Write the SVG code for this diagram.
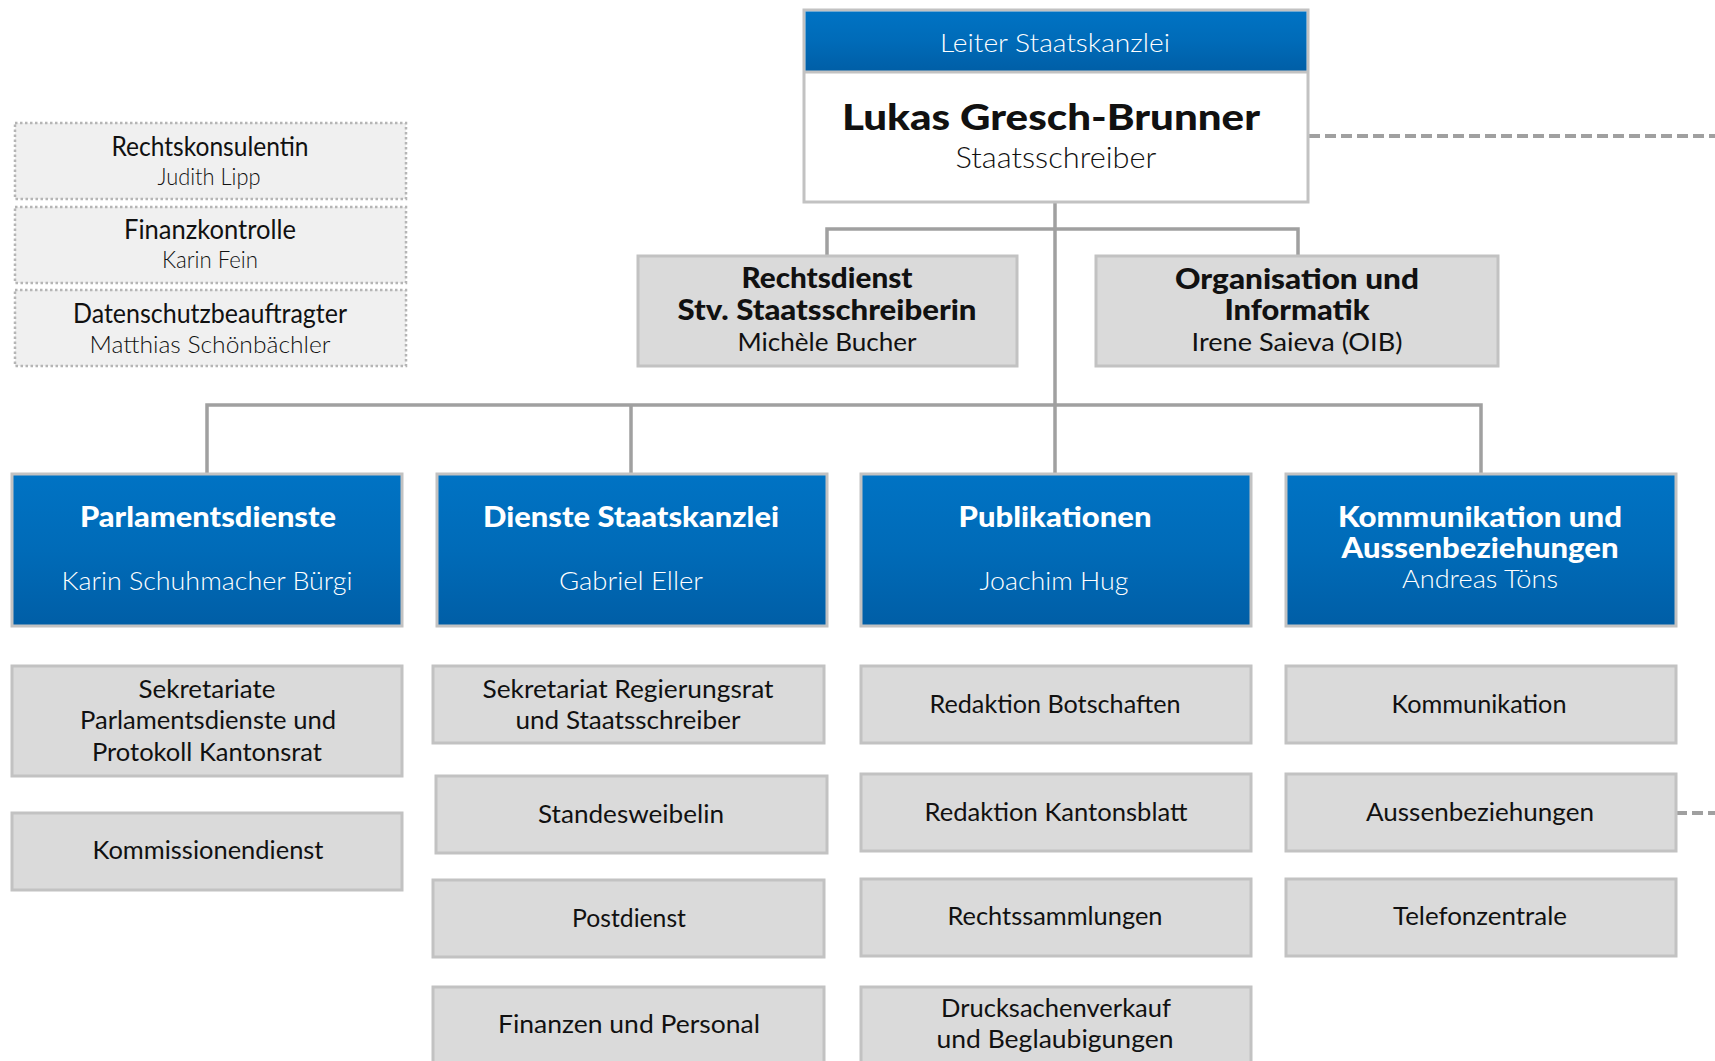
<svg xmlns="http://www.w3.org/2000/svg" width="1715" height="1061" viewBox="0 0 1715 1061">
<defs>
<linearGradient id="blue" x1="0" y1="0" x2="0" y2="1">
<stop offset="0" stop-color="#0073c4"/>
<stop offset="0.5" stop-color="#006bb8"/>
<stop offset="1" stop-color="#005ea6"/>
</linearGradient>
<style>
text{font-family:Lato,"Liberation Sans",sans-serif;text-anchor:middle;fill:#111}
.lt{font-weight:300;font-size:25px}
.rg{font-weight:400;font-size:25px}
.bd{font-weight:900;font-size:28px}
.w{fill:#fff}
.gbox{fill:#dadada;stroke:#c2c2c2;stroke-width:3}
.bbox{fill:url(#blue);stroke:#c2c2c2;stroke-width:3}
.dbox{fill:#f0f0f0;stroke:#b5b5b5;stroke-width:2.5;stroke-dasharray:2.5 2.5}
.conn{stroke:#a0a0a0;stroke-width:3.5;fill:none}
.dash{stroke:#a0a0a0;stroke-width:4;fill:none;stroke-dasharray:11 5}
</style>
</defs>
<rect width="1715" height="1061" fill="#fff"/>
<g id="connectors">
<path class="conn" d="M1055 202V474M827 257V229H1298V257M207 474V405H1481V474M631 405V474"/>
<path class="dash" d="M1309 136H1715"/>
<path class="dash" d="M1676 813H1715"/>
</g>
<g id="leiter">
<rect x="804" y="10" width="504" height="192" fill="#fff" stroke="#c2c2c2" stroke-width="3"/>
<rect x="805.5" y="11.5" width="501" height="60" fill="url(#blue)"/>
<line x1="804" y1="72" x2="1308" y2="72" stroke="#c2c2c2" stroke-width="3"/>
<text class="lt w" x="1055" y="52" font-size="26" textLength="230" lengthAdjust="spacingAndGlyphs">Leiter Staatskanzlei</text>
<text x="1051" y="130" style="font-weight:900;font-size:36px" textLength="418" lengthAdjust="spacingAndGlyphs">Lukas Gresch-Brunner</text>
<text class="lt" x="1056" y="168" style="font-size:30px" textLength="201" lengthAdjust="spacingAndGlyphs">Staatsschreiber</text>
</g>
<g id="rechtskonsulentin">
<rect class="dbox" x="15" y="123" width="391" height="76"/>
<text class="rg" x="210" y="156" style="font-size:26px" textLength="197" lengthAdjust="spacingAndGlyphs">Rechtskonsulentin</text>
<text class="lt" x="209" y="185" style="font-size:23px" textLength="103" lengthAdjust="spacingAndGlyphs">Judith Lipp</text>
</g>
<g id="finanzkontrolle">
<rect class="dbox" x="15" y="207" width="391" height="76"/>
<text class="rg" x="210" y="239" style="font-size:26px" textLength="172" lengthAdjust="spacingAndGlyphs">Finanzkontrolle</text>
<text class="lt" x="210" y="268" style="font-size:23px" textLength="96" lengthAdjust="spacingAndGlyphs">Karin Fein</text>
</g>
<g id="datenschutz">
<rect class="dbox" x="15" y="290" width="391" height="76"/>
<text class="rg" x="210" y="323" style="font-size:26px" textLength="274" lengthAdjust="spacingAndGlyphs">Datenschutzbeauftragter</text>
<text class="lt" x="210" y="353" style="font-size:23px" textLength="241" lengthAdjust="spacingAndGlyphs">Matthias Schönbächler</text>
</g>
<g id="rechtsdienst">
<rect class="gbox" x="638" y="256" width="379" height="110"/>
<text class="bd" x="827" y="288" textLength="171" lengthAdjust="spacingAndGlyphs">Rechtsdienst</text>
<text class="bd" x="827" y="320" textLength="299" lengthAdjust="spacingAndGlyphs">Stv. Staatsschreiberin</text>
<text class="rg" x="827" y="351" textLength="179" lengthAdjust="spacingAndGlyphs">Michèle Bucher</text>
</g>
<g id="organisation">
<rect class="gbox" x="1096" y="256" width="402" height="110"/>
<text class="bd" x="1297" y="289" textLength="244" lengthAdjust="spacingAndGlyphs">Organisation und</text>
<text class="bd" x="1297" y="320" textLength="145" lengthAdjust="spacingAndGlyphs">Informatik</text>
<text class="rg" x="1297" y="351" textLength="211" lengthAdjust="spacingAndGlyphs">Irene Saieva (OIB)</text>
</g>
<g id="parlamentsdienste">
<rect class="bbox" x="12" y="474" width="390" height="152"/>
<text class="bd w" x="208" y="527" textLength="256" lengthAdjust="spacingAndGlyphs">Parlamentsdienste</text>
<text class="lt w" x="207" y="590" textLength="291" lengthAdjust="spacingAndGlyphs">Karin Schuhmacher Bürgi</text>
</g>
<g id="dienste">
<rect class="bbox" x="437" y="474" width="390" height="152"/>
<text class="bd w" x="631" y="527" textLength="296" lengthAdjust="spacingAndGlyphs">Dienste Staatskanzlei</text>
<text class="lt w" x="631" y="590" textLength="144" lengthAdjust="spacingAndGlyphs">Gabriel Eller</text>
</g>
<g id="publikationen">
<rect class="bbox" x="861" y="474" width="390" height="152"/>
<text class="bd w" x="1055" y="527" textLength="193" lengthAdjust="spacingAndGlyphs">Publikationen</text>
<text class="lt w" x="1054" y="590" textLength="149" lengthAdjust="spacingAndGlyphs">Joachim Hug</text>
</g>
<g id="kommunikation-aussen">
<rect class="bbox" x="1286" y="474" width="390" height="152"/>
<text class="bd w" x="1480" y="527" textLength="284" lengthAdjust="spacingAndGlyphs">Kommunikation und</text>
<text class="bd w" x="1480" y="558" textLength="277" lengthAdjust="spacingAndGlyphs">Aussenbeziehungen</text>
<text class="lt w" x="1480" y="588" textLength="156" lengthAdjust="spacingAndGlyphs">Andreas Töns</text>
</g>
<g id="sekretariate">
<rect class="gbox" x="12" y="666" width="390" height="110"/>
<text class="rg" x="207" y="698" textLength="137" lengthAdjust="spacingAndGlyphs">Sekretariate</text>
<text class="rg" x="208" y="729" textLength="256" lengthAdjust="spacingAndGlyphs">Parlamentsdienste und</text>
<text class="rg" x="207" y="761" textLength="230" lengthAdjust="spacingAndGlyphs">Protokoll Kantonsrat</text>
</g>
<g id="kommissionendienst">
<rect class="gbox" x="12" y="813" width="390" height="77"/>
<text class="rg" x="208" y="859" textLength="231" lengthAdjust="spacingAndGlyphs">Kommissionendienst</text>
</g>
<g id="sekretariat-rr">
<rect class="gbox" x="433" y="666" width="391" height="77"/>
<text class="rg" x="628" y="698" textLength="291" lengthAdjust="spacingAndGlyphs">Sekretariat Regierungsrat</text>
<text class="rg" x="628" y="729" textLength="225" lengthAdjust="spacingAndGlyphs">und Staatsschreiber</text>
</g>
<g id="standesweibelin">
<rect class="gbox" x="436" y="776" width="391" height="77"/>
<text class="rg" x="631" y="823" textLength="186" lengthAdjust="spacingAndGlyphs">Standesweibelin</text>
</g>
<g id="postdienst">
<rect class="gbox" x="433" y="880" width="391" height="77"/>
<text class="rg" x="629" y="927" textLength="114" lengthAdjust="spacingAndGlyphs">Postdienst</text>
</g>
<g id="finanzen">
<rect class="gbox" x="433" y="987" width="391" height="90"/>
<text class="rg" x="629" y="1033" textLength="262" lengthAdjust="spacingAndGlyphs">Finanzen und Personal</text>
</g>
<g id="redaktion-botschaften">
<rect class="gbox" x="861" y="666" width="390" height="77"/>
<text class="rg" x="1055" y="713" textLength="251" lengthAdjust="spacingAndGlyphs">Redaktion Botschaften</text>
</g>
<g id="redaktion-kantonsblatt">
<rect class="gbox" x="861" y="774" width="390" height="77"/>
<text class="rg" x="1056" y="821" textLength="263" lengthAdjust="spacingAndGlyphs">Redaktion Kantonsblatt</text>
</g>
<g id="rechtssammlungen">
<rect class="gbox" x="861" y="879" width="390" height="77"/>
<text class="rg" x="1055" y="925" textLength="215" lengthAdjust="spacingAndGlyphs">Rechtssammlungen</text>
</g>
<g id="drucksachen">
<rect class="gbox" x="861" y="987" width="390" height="90"/>
<text class="rg" x="1056" y="1017" textLength="230" lengthAdjust="spacingAndGlyphs">Drucksachenverkauf</text>
<text class="rg" x="1055" y="1048" textLength="237" lengthAdjust="spacingAndGlyphs">und Beglaubigungen</text>
</g>
<g id="kommunikation">
<rect class="gbox" x="1286" y="666" width="390" height="77"/>
<text class="rg" x="1479" y="713" textLength="175" lengthAdjust="spacingAndGlyphs">Kommunikation</text>
</g>
<g id="aussenbeziehungen">
<rect class="gbox" x="1286" y="774" width="390" height="77"/>
<text class="rg" x="1480" y="821" textLength="228" lengthAdjust="spacingAndGlyphs">Aussenbeziehungen</text>
</g>
<g id="telefonzentrale">
<rect class="gbox" x="1286" y="879" width="390" height="77"/>
<text class="rg" x="1480" y="925" textLength="174" lengthAdjust="spacingAndGlyphs">Telefonzentrale</text>
</g>
</svg>
